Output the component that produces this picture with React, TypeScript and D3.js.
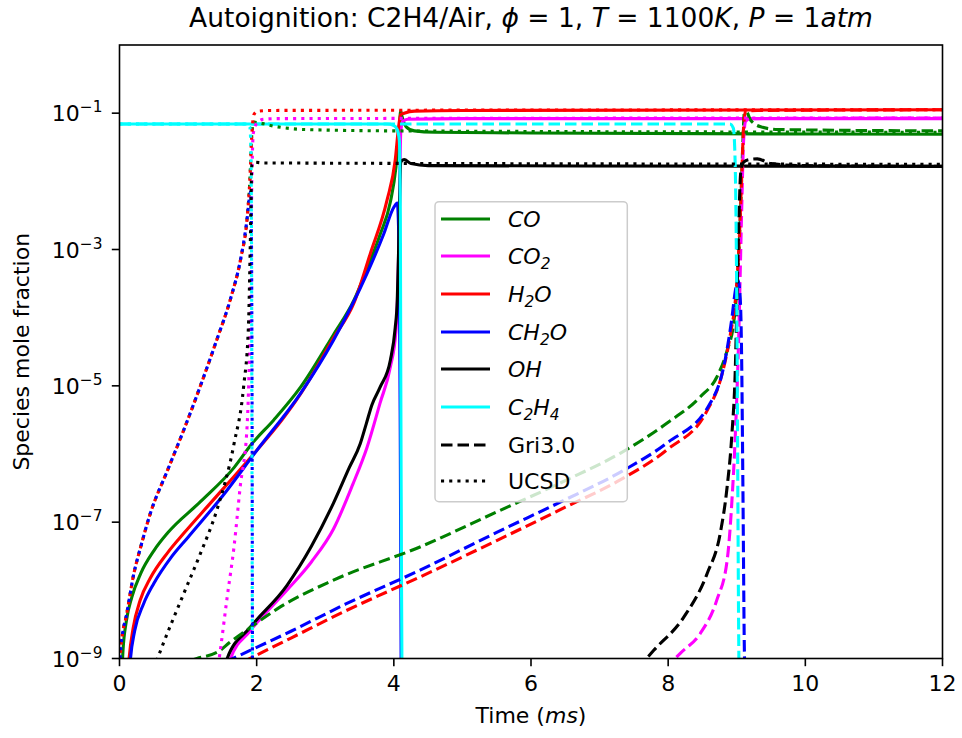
import React from "react";
import * as d3 from "d3";

const W = 962;
const H = 738;

// axis ticks
const xTicks = [0, 2, 4, 6, 8, 10, 12];
const yTickExps = [-9, -7, -5, -3, -1];

// Species and colours (legend order)
const species = ["CO", "CO2", "H2O", "CH2O", "OH", "C2H4"];
const speciesColors = ["#008000", "#ff00ff", "#ff0000", "#0000ff", "#000000", "#00ffff"];

// ---- data: [time (ms), log10(mole fraction)] ----
// base mechanism (solid)
const CO_base = [[0.02,-9.6],[0.05,-8.9],[0.1,-8.45],[0.18,-8.1],[0.31,-7.75],[0.5,-7.42],[0.7,-7.16],[1.18,-6.7],[1.67,-6.2],[1.93,-5.85],[2.25,-5.5],[2.64,-5.02],[3.12,-4.25],[3.42,-3.74],[3.61,-3.28],[3.8,-2.78],[3.95,-2.3],[4.03,-1.8],[4.08,-1.2],[4.1,-0.97],[4.12,-1.05],[4.18,-1.2],[4.3,-1.26],[4.6,-1.28],[6,-1.29],[12,-1.31]];
const CO2_base = [[1.55,-9.4],[1.62,-9.0],[1.9,-8.6],[2.44,-8.0],[2.8,-7.58],[3.12,-7.1],[3.4,-6.45],[3.61,-5.9],[3.8,-5.25],[3.95,-4.72],[4.03,-4.2],[4.06,-3.5],[4.08,-2.6],[4.1,-1.3],[4.13,-1.12],[4.2,-1.09],[5,-1.08],[12,-1.08]];
const H2O_base = [[0.1,-9.6],[0.14,-9.0],[0.2,-8.55],[0.3,-8.15],[0.45,-7.82],[0.7,-7.45],[0.94,-7.16],[1.3,-6.75],[1.67,-6.33],[2.0,-5.95],[2.37,-5.5],[2.64,-5.12],[3.12,-4.3],[3.42,-3.78],[3.66,-3.05],[3.9,-2.28],[4.02,-1.69],[4.07,-1.2],[4.1,-1.02],[4.15,-1.0],[4.3,-0.97],[5,-0.96],[12,-0.95]];
const CH2O_base = [[0.12,-9.6],[0.16,-9.0],[0.22,-8.6],[0.35,-8.2],[0.5,-7.9],[0.75,-7.52],[1.0,-7.22],[1.5,-6.62],[2.0,-5.95],[2.64,-5.11],[3.12,-4.33],[3.61,-3.35],[3.85,-2.78],[4.0,-2.38],[4.05,-2.32],[4.08,-3.2],[4.095,-6],[4.11,-10]];
const OH_base = [[1.5,-9.4],[1.57,-9.0],[1.9,-8.55],[2.44,-7.93],[2.8,-7.35],[3.12,-6.72],[3.35,-6.2],[3.51,-5.85],[3.6,-5.55],[3.68,-5.28],[3.8,-5.02],[3.95,-4.62],[4.02,-4.15],[4.05,-3.74],[4.07,-3.0],[4.09,-2.0],[4.1,-1.72],[4.15,-1.68],[4.25,-1.74],[4.5,-1.77],[12,-1.78]];
const C2H4_base = [[0,-1.16],[3.9,-1.16],[4.0,-1.18],[4.05,-1.24],[4.08,-1.4],[4.095,-2.5],[4.1,-4.5],[4.11,-7.5],[4.12,-9.5],[4.125,-10]];

// Gri3.0 (dashed)
const CO_gri = [[0.8,-9.1],[1.13,-9.0],[1.47,-8.88],[1.6,-8.77],[1.86,-8.58],[2.35,-8.24],[3.12,-7.85],[4.39,-7.36],[5.5,-6.85],[6.5,-6.39],[7.3,-5.99],[7.98,-5.55],[8.47,-5.16],[8.71,-4.87],[8.86,-4.48],[8.96,-4.04],[9.02,-3.3],[9.06,-2.3],[9.09,-1.4],[9.11,-1.0],[9.14,-0.98],[9.2,-1.1],[9.35,-1.2],[9.6,-1.24],[12,-1.26]];
const CO2_gri = [[7.95,-9.15],[8.18,-8.92],[8.47,-8.63],[8.71,-8.14],[8.86,-7.56],[8.93,-6.68],[8.98,-5.7],[9.03,-4.23],[9.07,-2.5],[9.1,-1.4],[9.13,-1.12],[9.2,-1.08],[12,-1.07]];
const H2O_gri = [[1.8,-9.05],[1.96,-8.97],[2.5,-8.7],[3.3,-8.3],[4.39,-7.8],[5.5,-7.27],[6.5,-6.78],[7.3,-6.38],[7.98,-5.94],[8.57,-5.36],[8.76,-4.92],[8.91,-4.23],[8.98,-3.74],[9.03,-3.0],[9.07,-2.0],[9.1,-1.2],[9.13,-0.97],[9.3,-0.96],[12,-0.95]];
const CH2O_gri = [[1.55,-9.05],[1.76,-8.95],[2.5,-8.6],[3.3,-8.2],[4.39,-7.7],[5.5,-7.15],[6.5,-6.67],[7.35,-6.24],[7.98,-5.84],[8.61,-5.26],[8.81,-4.72],[8.93,-4.0],[8.98,-3.6],[9.02,-3.45],[9.05,-3.7],[9.07,-4.5],[9.09,-6.5],[9.11,-8.8],[9.12,-9.3]];
const OH_gri = [[7.55,-9.15],[7.79,-8.88],[8.23,-8.39],[8.57,-7.75],[8.76,-7.16],[8.86,-6.48],[8.93,-5.7],[8.98,-4.72],[9.0,-3.9],[9.03,-2.6],[9.06,-1.85],[9.1,-1.72],[9.18,-1.68],[9.3,-1.67],[9.5,-1.74],[10,-1.77],[12,-1.78]];
const C2H4_gri = [[0,-1.16],[8.9,-1.16],[8.95,-1.22],[8.97,-1.5],[8.99,-2.6],[9.0,-3.74],[9.03,-8.88],[9.035,-9.4]];

// UCSD (dotted)
const CO_ucsd = [[0.0,-9.5],[0.01,-9.0],[0.05,-8.6],[0.09,-8.42],[0.21,-7.75],[0.31,-7.36],[0.45,-6.87],[0.7,-6.24],[0.94,-5.64],[1.18,-5.0],[1.42,-4.32],[1.62,-3.72],[1.77,-3.12],[1.86,-2.55],[1.9,-2.0],[1.93,-1.3],[1.96,-1.13],[2.02,-1.14],[2.3,-1.2],[2.7,-1.24],[4,-1.26],[12,-1.28]];
const CO2_ucsd = [[1.44,-9.1],[1.47,-8.88],[1.57,-8.1],[1.67,-7.36],[1.76,-6.48],[1.86,-5.6],[1.88,-5.1],[1.91,-3.74],[1.93,-2.0],[1.95,-1.3],[2.0,-1.15],[2.1,-1.09],[2.3,-1.08],[12,-1.07]];
const H2O_ucsd = [[0.0,-9.5],[0.01,-9.0],[0.05,-8.6],[0.09,-8.42],[0.21,-7.75],[0.31,-7.36],[0.45,-6.87],[0.7,-6.24],[0.94,-5.64],[1.18,-5.0],[1.42,-4.32],[1.62,-3.72],[1.77,-3.12],[1.86,-2.55],[1.9,-2.0],[1.93,-1.3],[1.96,-1.02],[2.02,-0.97],[2.2,-0.96],[12,-0.95]];
const CH2O_ucsd = [[0.0,-9.5],[0.01,-9.0],[0.05,-8.6],[0.09,-8.42],[0.21,-7.75],[0.31,-7.36],[0.45,-6.87],[0.7,-6.24],[0.94,-5.64],[1.18,-5.0],[1.42,-4.32],[1.62,-3.72],[1.77,-3.12],[1.86,-2.55],[1.9,-2.2],[1.915,-2.15],[1.93,-4],[1.94,-10]];
const OH_ucsd = [[0.5,-9.15],[0.6,-8.88],[0.94,-8.04],[1.18,-7.46],[1.42,-6.82],[1.67,-5.85],[1.81,-5.01],[1.88,-4.13],[1.91,-2.77],[1.93,-1.76],[1.97,-1.72],[2.1,-1.73],[12,-1.75]];
const C2H4_ucsd = [[0,-1.16],[1.85,-1.16],[1.9,-1.2],[1.915,-1.5],[1.925,-3],[1.935,-8],[1.94,-10]];

const baseSeries = [CO_base, CO2_base, H2O_base, CH2O_base, OH_base, C2H4_base];
const griSeries = [CO_gri, CO2_gri, H2O_gri, CH2O_gri, OH_gri, C2H4_gri];
const ucsdSeries = [CO_ucsd, CO2_ucsd, H2O_ucsd, CH2O_ucsd, OH_ucsd, C2H4_ucsd];

const mechLabels = ["Gri3.0", "UCSD"];

// layout
const PL = 119.5, PR = 942.5, PT = 45, PB = 658.5;
const LW = 3.1;
const DASH = `${(3.7 * LW).toFixed(1)},${(1.6 * LW).toFixed(1)}`;
const DOT = `${(1 * LW).toFixed(1)},${(1.65 * LW).toFixed(1)}`;
const dotOffsets = [0, 0, 1.3, -1.3, 0, 0];
const FONT = "'DejaVu Sans', sans-serif";
const FS = 22;
const SUB = FS * 0.7;

const x = d3.scaleLinear().domain([0, 12]).range([PL, PR]);
const y = d3.scaleLog().domain([1e-9, 1]).range([PB, PT]);

const lineGen = d3
  .line<number[]>()
  .x((d) => x(d[0]))
  .y((d) => y(Math.pow(10, d[1])))
  .curve(d3.curveMonotoneX);

function SpeciesLabel({ name }: { name: string }) {
  switch (name) {
    case "CO2":
      return (
        <>
          <tspan fontStyle="italic">CO</tspan>
          <tspan fontStyle="italic" dy={5} fontSize={SUB}>2</tspan>
        </>
      );
    case "H2O":
      return (
        <>
          <tspan fontStyle="italic">H</tspan>
          <tspan fontStyle="italic" dy={5} fontSize={SUB}>2</tspan>
          <tspan fontStyle="italic" dy={-5}>O</tspan>
        </>
      );
    case "CH2O":
      return (
        <>
          <tspan fontStyle="italic">CH</tspan>
          <tspan fontStyle="italic" dy={5} fontSize={SUB}>2</tspan>
          <tspan fontStyle="italic" dy={-5}>O</tspan>
        </>
      );
    case "C2H4":
      return (
        <>
          <tspan fontStyle="italic">C</tspan>
          <tspan fontStyle="italic" dy={5} fontSize={SUB}>2</tspan>
          <tspan fontStyle="italic" dy={-5}>H</tspan>
          <tspan fontStyle="italic" dy={5} fontSize={SUB}>4</tspan>
        </>
      );
    default:
      return <tspan fontStyle="italic">{name}</tspan>;
  }
}

export default function App() {
  const legendRows = [219, 256, 294, 332, 369, 407, 445, 481];
  return (
    <div style={{ position: "absolute", left: 0, top: 0 }}>
      <svg width={W} height={H} style={{ display: "block", background: "#fff" }} fontFamily={FONT}>
        <defs>
          <clipPath id="plotclip">
            <rect x={PL} y={PT} width={PR - PL} height={PB - PT} />
          </clipPath>
        </defs>
        {/* title */}
        <text x={(PL + PR) / 2} y={27} fontSize={26.5} textAnchor="middle" style={{ whiteSpace: "pre" }}>
          <tspan>Autoignition: C2H4/Air, </tspan>
          <tspan fontStyle="italic">ϕ</tspan>
          <tspan> = 1, </tspan>
          <tspan fontStyle="italic">T</tspan>
          <tspan> = 1100</tspan>
          <tspan fontStyle="italic">K</tspan>
          <tspan>, </tspan>
          <tspan fontStyle="italic">P</tspan>
          <tspan> = 1</tspan>
          <tspan fontStyle="italic">atm</tspan>
        </text>

        {/* data lines */}
        <g clipPath="url(#plotclip)" fill="none" strokeLinejoin="round">
          {baseSeries.map((s, i) => (
            <path key={"b" + i} d={lineGen(s) || ""} stroke={speciesColors[i]} strokeWidth={LW} />
          ))}
          {griSeries.map((s, i) => (
            <path key={"g" + i} d={lineGen(s) || ""} stroke={speciesColors[i]} strokeWidth={LW} strokeDasharray={DASH} />
          ))}
          {ucsdSeries.map((s, i) => (
            <path key={"u" + i} d={lineGen(s) || ""} stroke={speciesColors[i]} strokeWidth={LW} strokeDasharray={DOT} strokeDashoffset={dotOffsets[i]} />
          ))}
        </g>

        {/* frame */}
        <rect x={PL} y={PT} width={PR - PL} height={PB - PT} fill="none" stroke="#000" strokeWidth={1.6} />

        {/* x ticks */}
        {xTicks.map((t) => (
          <g key={"xt" + t}>
            <line x1={x(t)} x2={x(t)} y1={PB} y2={PB + 7.7} stroke="#000" strokeWidth={1.6} />
            <text x={x(t)} y={PB + 32} fontSize={FS} textAnchor="middle">{t}</text>
          </g>
        ))}
        {/* y ticks */}
        {yTickExps.map((e) => (
          <g key={"yt" + e}>
            <line x1={PL - 7.7} x2={PL} y1={y(Math.pow(10, e))} y2={y(Math.pow(10, e))} stroke="#000" strokeWidth={1.6} />
            <text x={PL - 17} y={y(Math.pow(10, e)) + 8} fontSize={FS} textAnchor="end">
              10
              <tspan dy={-9} fontSize={SUB}>{"\u2212" + Math.abs(e)}</tspan>
            </text>
          </g>
        ))}

        {/* axis labels */}
        <text x={(PL + PR) / 2} y={723} fontSize={FS} textAnchor="middle" style={{ whiteSpace: "pre" }}>
          <tspan>Time (</tspan>
          <tspan fontStyle="italic">ms</tspan>
          <tspan>)</tspan>
        </text>
        <text transform={`translate(29,${(PT + PB) / 2}) rotate(-90)`} fontSize={FS} textAnchor="middle">
          Species mole fraction
        </text>

        {/* legend */}
        <g>
          <rect x={435} y={201.7} width={192.3} height={300} rx={4} fill="#fff" fillOpacity={0.8} stroke="#cccccc" strokeWidth={1.5} />
          {species.map((sp, i) => (
            <g key={"lg" + sp}>
              <line x1={441} x2={490} y1={legendRows[i]} y2={legendRows[i]} stroke={speciesColors[i]} strokeWidth={LW} />
              <text x={508} y={legendRows[i] + 8} fontSize={FS}>
                <SpeciesLabel name={sp} />
              </text>
            </g>
          ))}
          {mechLabels.map((m, j) => (
            <g key={"lm" + m}>
              <line x1={441} x2={490} y1={legendRows[6 + j]} y2={legendRows[6 + j]} stroke="#000" strokeWidth={LW} strokeDasharray={j === 0 ? DASH : DOT} />
              <text x={508} y={legendRows[6 + j] + 8} fontSize={FS}>{m}</text>
            </g>
          ))}
        </g>
      </svg>
    </div>
  );
}
